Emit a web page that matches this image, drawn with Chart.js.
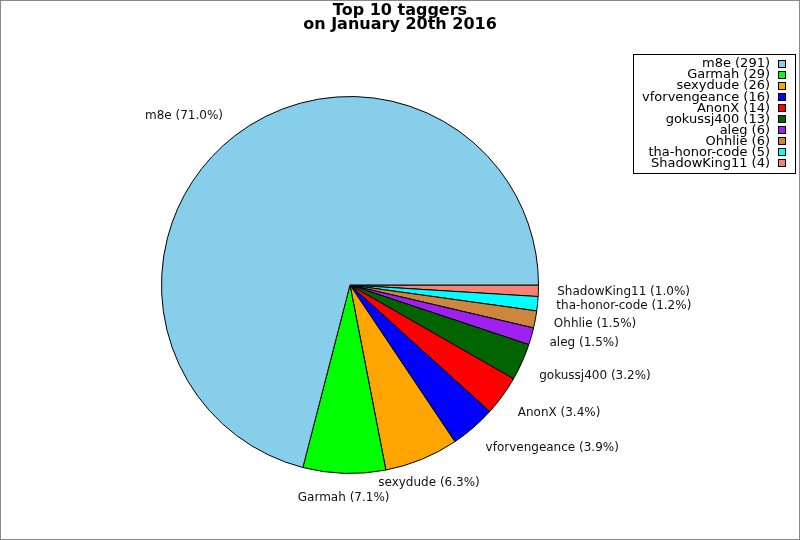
<!DOCTYPE html>
<html>
<head>
<meta charset="utf-8">
<style>
  html, body { margin: 0; padding: 0; background: #fff; }
  canvas { display: block; }
</style>
<script src="https://cdn.jsdelivr.net/npm/chart.js@4.4.1/dist/chart.umd.min.js"></script>
</head>
<body>
<canvas id="pieChart" width="800" height="540"></canvas>
<script>
// Dados do gráfico (ordem da legenda)
const taggers = ['m8e', 'Garmah', 'sexydude', 'vforvengeance', 'AnonX', 'gokussj400', 'aleg', 'Ohhlie', 'tha-honor-code', 'ShadowKing11'];
const tagCounts = [291, 29, 26, 16, 14, 13, 6, 6, 5, 4];
const sliceColors = ['#87ceeb', '#00ff00', '#ffa500', '#0000ff', '#ff0000', '#006400', '#a020f0', '#cd853f', '#00ffff', '#fa8072'];
const titleLines = ['Top 10 taggers', 'on January 20th 2016'];

const total = tagCounts.reduce((a, b) => a + b, 0);
const pct = (v) => (v / total * 100).toFixed(1) + '%';

// Chart.js desenha no sentido horário; invertemos para ficar anti-horário a partir das 3h
const revNames = taggers.slice().reverse();
const revCounts = tagCounts.slice().reverse();
const revColors = sliceColors.slice().reverse();

const FONT = '"DejaVu Sans", sans-serif';

// Plugin: moldura, título, rótulos das fatias e legenda
const decorPlugin = {
    id: 'decor',
    afterDraw(chart) {
        const ctx = chart.ctx;
        ctx.save();

        // moldura cinza
        ctx.strokeStyle = '#888';
        ctx.lineWidth = 1;
        ctx.strokeRect(0.5, 0.5, chart.width - 1, chart.height - 1);

        // título
        ctx.fillStyle = '#000';
        ctx.font = 'bold 16px ' + FONT;
        ctx.textAlign = 'center';
        ctx.textBaseline = 'alphabetic';
        ctx.fillText(titleLines[0], 400, 15);
        ctx.fillText(titleLines[1], 400, 28.5);

        // rótulos fora das fatias
        ctx.font = '12px ' + FONT;
        ctx.textBaseline = 'middle';
        ctx.fillStyle = '#111';
        const meta = chart.getDatasetMeta(0);
        meta.data.forEach((arc, i) => {
            const p = arc.getProps(['x', 'y', 'startAngle', 'endAngle', 'outerRadius'], true);
            const mid = (p.startAngle + p.endAngle) / 2;
            const r = p.outerRadius * 1.1;
            const c = Math.cos(mid), s = Math.sin(mid);
            const lx = p.x + r * c;
            const dy = s > 0.35 ? 6 : (s < 0 ? s * 6 : s * 5);
            const ly = p.y + r * s + dy;
            ctx.textAlign = c > 0.5 ? 'left' : (c < -0.5 ? 'right' : 'center');
            ctx.fillText(revNames[i] + ' (' + pct(revCounts[i]) + ')', lx, ly);
        });

        // legenda
        const box = { x: 633, y: 54, w: 162, h: 119 };
        ctx.fillStyle = '#fff';
        ctx.fillRect(box.x, box.y, box.w, box.h);
        ctx.strokeStyle = '#000';
        ctx.strokeRect(box.x + 0.5, box.y + 0.5, box.w, box.h);
        ctx.font = '13px ' + FONT;
        ctx.textAlign = 'right';
        ctx.textBaseline = 'middle';
        taggers.forEach((name, i) => {
            const cy = 63.5 + i * 11.05;
            ctx.fillStyle = '#000';
            ctx.fillText(name + ' (' + tagCounts[i] + ')', 770, cy + 0.5);
            ctx.fillStyle = sliceColors[i];
            ctx.fillRect(778, Math.round(cy - 4), 8, 8);
            ctx.strokeStyle = '#000';
            ctx.strokeRect(778.5, Math.round(cy - 4) + 0.5, 7, 7);
        });

        ctx.restore();
    }
};

const chartEl = document.getElementById('pieChart');
new Chart(chartEl.getContext('2d'), {
    type: 'pie',
    data: {
        labels: revNames,
        datasets: [{
            data: revCounts,
            backgroundColor: revColors,
            borderColor: '#000',
            borderWidth: 1
        }]
    },
    options: {
        responsive: false,
        animation: false,
        rotation: 90,
        layout: { padding: { left: 161, right: 261, top: 96, bottom: 66 } },
        plugins: {
            legend: { display: false },
            title: { display: false },
            tooltip: { enabled: false }
        }
    },
    plugins: [decorPlugin]
});
</script>
</body>
</html>
